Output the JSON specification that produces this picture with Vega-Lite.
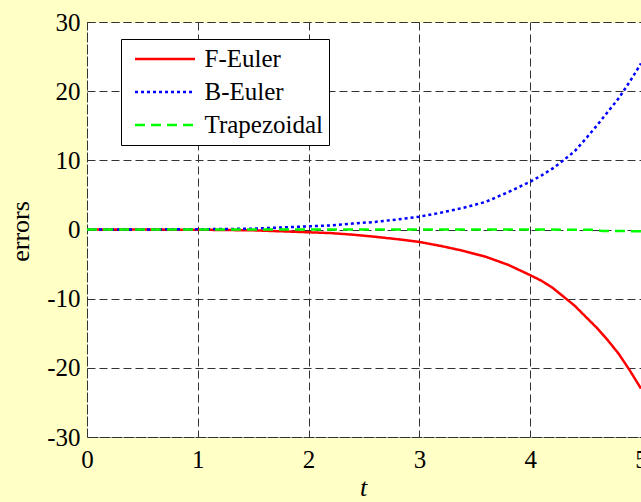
{
  "$schema": "https://vega.github.io/schema/vega-lite/v6.json",
  "width": 554,
  "height": 415,
  "autosize": {"type": "none"},
  "padding": {"left": 87, "top": 22, "right": 0, "bottom": 65},
  "background": "#FFFFC6",
  "config": {
    "font": "Liberation Serif",
    "view": {"fill": "white", "stroke": "#333333", "strokeDash": [8, 4], "strokeWidth": 1},
    "axis": {
      "domain": false,
      "ticks": false,
      "grid": true,
      "gridColor": "#333333",
      "gridDash": [8, 4],
      "gridWidth": 1,
      "gridOpacity": 1,
      "labelFlush": false,
      "labelOverlap": false,
      "labelFont": "Liberation Serif",
      "labelFontSize": 25,
      "labelColor": "#000000",
      "titleFont": "Liberation Serif",
      "titleFontSize": 26,
      "titleFontWeight": "normal",
      "titleColor": "#000000"
    }
  },
  "data": {
    "values": [
      {"t": 0.0, "err": 0.0, "method": "F-Euler"},
      {"t": 0.5, "err": -0.01, "method": "F-Euler"},
      {"t": 1.0, "err": -0.03, "method": "F-Euler"},
      {"t": 1.5, "err": -0.12, "method": "F-Euler"},
      {"t": 2.0, "err": -0.4, "method": "F-Euler"},
      {"t": 2.2, "err": -0.52, "method": "F-Euler"},
      {"t": 2.4, "err": -0.75, "method": "F-Euler"},
      {"t": 2.6, "err": -1.05, "method": "F-Euler"},
      {"t": 2.8, "err": -1.4, "method": "F-Euler"},
      {"t": 3.0, "err": -1.8, "method": "F-Euler"},
      {"t": 3.2, "err": -2.4, "method": "F-Euler"},
      {"t": 3.4, "err": -3.1, "method": "F-Euler"},
      {"t": 3.6, "err": -3.95, "method": "F-Euler"},
      {"t": 3.8, "err": -5.1, "method": "F-Euler"},
      {"t": 4.0, "err": -6.6, "method": "F-Euler"},
      {"t": 4.1, "err": -7.4, "method": "F-Euler"},
      {"t": 4.2, "err": -8.4, "method": "F-Euler"},
      {"t": 4.3, "err": -9.7, "method": "F-Euler"},
      {"t": 4.4, "err": -11.0, "method": "F-Euler"},
      {"t": 4.5, "err": -12.6, "method": "F-Euler"},
      {"t": 4.6, "err": -14.2, "method": "F-Euler"},
      {"t": 4.7, "err": -16.0, "method": "F-Euler"},
      {"t": 4.8, "err": -18.0, "method": "F-Euler"},
      {"t": 4.9, "err": -20.4, "method": "F-Euler"},
      {"t": 5.0, "err": -23.0, "method": "F-Euler"},
      {"t": 0.0, "err": 0.0, "method": "B-Euler"},
      {"t": 0.5, "err": 0.01, "method": "B-Euler"},
      {"t": 1.0, "err": 0.03, "method": "B-Euler"},
      {"t": 1.5, "err": 0.12, "method": "B-Euler"},
      {"t": 2.0, "err": 0.45, "method": "B-Euler"},
      {"t": 2.2, "err": 0.6, "method": "B-Euler"},
      {"t": 2.4, "err": 0.85, "method": "B-Euler"},
      {"t": 2.6, "err": 1.1, "method": "B-Euler"},
      {"t": 2.8, "err": 1.45, "method": "B-Euler"},
      {"t": 3.0, "err": 1.85, "method": "B-Euler"},
      {"t": 3.2, "err": 2.45, "method": "B-Euler"},
      {"t": 3.4, "err": 3.15, "method": "B-Euler"},
      {"t": 3.6, "err": 4.0, "method": "B-Euler"},
      {"t": 3.8, "err": 5.4, "method": "B-Euler"},
      {"t": 4.0, "err": 6.9, "method": "B-Euler"},
      {"t": 4.1, "err": 7.8, "method": "B-Euler"},
      {"t": 4.2, "err": 8.8, "method": "B-Euler"},
      {"t": 4.3, "err": 10.0, "method": "B-Euler"},
      {"t": 4.4, "err": 11.3, "method": "B-Euler"},
      {"t": 4.5, "err": 13.1, "method": "B-Euler"},
      {"t": 4.6, "err": 15.0, "method": "B-Euler"},
      {"t": 4.7, "err": 17.0, "method": "B-Euler"},
      {"t": 4.8, "err": 19.0, "method": "B-Euler"},
      {"t": 4.9, "err": 21.4, "method": "B-Euler"},
      {"t": 5.0, "err": 24.0, "method": "B-Euler"},
      {"t": 0.0, "err": 0.0, "method": "Trapezoidal"},
      {"t": 1.0, "err": 0.0, "method": "Trapezoidal"},
      {"t": 2.0, "err": 0.0, "method": "Trapezoidal"},
      {"t": 3.0, "err": 0.0, "method": "Trapezoidal"},
      {"t": 4.0, "err": -0.01, "method": "Trapezoidal"},
      {"t": 4.55, "err": -0.03, "method": "Trapezoidal"},
      {"t": 4.65, "err": -0.2, "method": "Trapezoidal"},
      {"t": 5.0, "err": -0.25, "method": "Trapezoidal"}
    ]
  },
  "mark": {"type": "line", "strokeWidth": 2.5, "clip": true},
  "encoding": {
    "x": {
      "field": "t",
      "type": "quantitative",
      "scale": {"domain": [0, 5], "nice": false},
      "axis": {
        "values": [0, 1, 2, 3, 4, 5],
        "labelPadding": 10,
        "title": "t",
        "titleFontStyle": "italic",
        "titleX": 276,
        "titleY": 58,
        "titleAlign": "center",
        "titleBaseline": "alphabetic"
      }
    },
    "y": {
      "field": "err",
      "type": "quantitative",
      "scale": {"domain": [-30, 30], "nice": false},
      "axis": {
        "values": [-30, -20, -10, 0, 10, 20, 30],
        "labelExpr": "datum.value < 0 ? '-' + abs(datum.value) : '' + datum.value",
        "labelPadding": 7,
        "title": "errors",
        "titleAngle": -90,
        "titleX": -59,
        "titleY": 209,
        "titleAlign": "center",
        "titleBaseline": "alphabetic"
      }
    },
    "color": {
      "field": "method",
      "type": "nominal",
      "scale": {"domain": ["F-Euler", "B-Euler", "Trapezoidal"], "range": ["#ff0000", "#0000ff", "#00ff00"]},
      "legend": {
        "title": null,
        "orient": "none",
        "legendX": 34,
        "legendY": 17,
        "symbolType": "stroke",
        "symbolSize": 3600,
        "symbolStrokeWidth": 2.5,
        "symbolOffset": 7,
        "labelFont": "Liberation Serif",
        "labelFontSize": 25,
        "labelColor": "#000000",
        "labelOffset": 8,
        "clipHeight": 29,
        "rowPadding": 4,
        "padding": 5.5,
        "fillColor": "#ffffff",
        "strokeColor": "#000000",
        "cornerRadius": 0
      }
    },
    "strokeDash": {
      "field": "method",
      "type": "nominal",
      "scale": {"domain": ["F-Euler", "B-Euler", "Trapezoidal"], "range": [[1, 0], [3, 3], [10, 6]]},
      "legend": {
        "title": null,
        "orient": "none",
        "legendX": 34,
        "legendY": 17,
        "symbolType": "stroke",
        "symbolSize": 3600,
        "symbolStrokeWidth": 2.5,
        "symbolOffset": 7,
        "labelFont": "Liberation Serif",
        "labelFontSize": 25,
        "labelColor": "#000000",
        "labelOffset": 8,
        "clipHeight": 29,
        "rowPadding": 4,
        "padding": 5.5,
        "fillColor": "#ffffff",
        "strokeColor": "#000000",
        "cornerRadius": 0
      }
    }
  }
}
